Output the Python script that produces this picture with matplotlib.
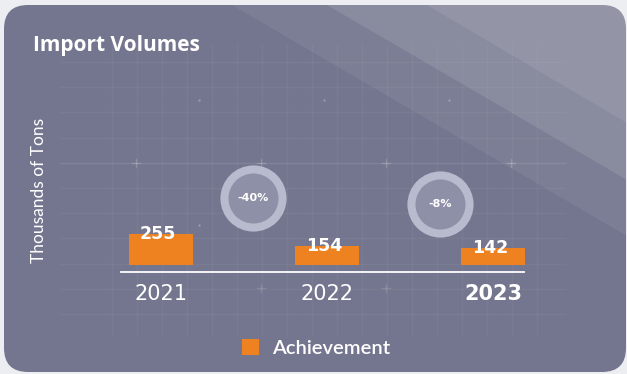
import numpy as np
import matplotlib.pyplot as plt
from matplotlib.patches import FancyBboxPatch, Polygon, Patch

years = ["2021", "2022", "2023"]
volumes = [255, 154, 142]
series_name = "Achievement"

BG = "#eceef2"
CARD = "#74768f"
ORANGE = "#ee8221"
RING = "#b8bace"
RING_FACE = "#8e90a7"

W, H = 627, 374
fig = plt.figure(figsize=(W / 100, H / 100), dpi=100, facecolor=BG)

# backdrop drawn in pixel space
bg = fig.add_axes([0, 0, 1, 1])
bg.set_xlim(0, W)
bg.set_ylim(H, 0)
bg.axis("off")

card_box = dict(boxstyle="round,pad=0,rounding_size=24", edgecolor="none")
bg.add_patch(FancyBboxPatch((4, 5), 622, 367, facecolor=CARD, **card_box))

# faint grid behind the chart
for gx in np.arange(112, 560, 25):
    strong = (gx - 136) % 125 == 0
    bg.plot([gx, gx], [45, 335], color="white", alpha=0.09 if strong else 0.04, lw=1)
for gy in np.arange(62, 330, 25.2):
    strong = abs(gy - 163) < 2
    bg.plot([60, 565], [gy, gy], color="white", alpha=0.09 if strong else 0.04, lw=1)
for cx in [136, 261, 386, 511]:
    bg.plot([cx - 4, cx + 4], [163, 163], color="white", alpha=0.18, lw=1)
    bg.plot([cx, cx], [159, 167], color="white", alpha=0.18, lw=1)
for cx in [261, 386]:
    bg.plot([cx - 4, cx + 4], [288, 288], color="white", alpha=0.12, lw=1)
    bg.plot([cx, cx], [284, 292], color="white", alpha=0.12, lw=1)
bg.scatter([199, 324, 449, 199], [100, 100, 100, 225], s=3, color="white", alpha=0.25, lw=0)

# diagonal light bands in the upper right
bands = [
    ([(232, 5), (627, 5), (627, 236)], 0.06),
    ([(327, 5), (627, 5), (627, 180)], 0.10),
    ([(427, 5), (627, 5), (627, 123)], 0.09),
]
for pts, a in bands:
    clip = FancyBboxPatch((4, 5), 622, 367, facecolor="none", transform=bg.transData, **card_box)
    bg.add_patch(clip)
    poly = Polygon(pts, closed=True, facecolor="white", alpha=a, edgecolor="none")
    bg.add_patch(poly)
    poly.set_clip_path(clip)

fig.text(33 / W, 1 - 46 / H, "Import Volumes", color="white", fontsize=15,
         fontweight="bold", family="Open Sans", va="center", ha="left")

# bar chart
ax = fig.add_axes([78 / W, (H - 272) / H, 498 / W, 212 / H])
ax.set_facecolor("none")
x = np.arange(len(years))
ax.bar(x, volumes, width=0.385, color=ORANGE, label=series_name)
ax.set_xlim(-0.5, 2.5)
ax.set_ylim(-58, 1686)

for xi, v in zip(x, volumes):
    ax.annotate(str(v), (xi, v), xytext=(-2, 0), textcoords="offset points",
                ha="center", va="center", color="white", fontsize=12.5, fontweight="bold")

# change between consecutive years
rings_x = [0.554, 1.68]
rings_y = [551, 502]
for i in range(len(volumes) - 1):
    pct = (volumes[i + 1] - volumes[i]) / volumes[i] * 100
    ax.scatter(rings_x[i], rings_y[i], s=1750, facecolor=RING_FACE, edgecolor=RING,
               linewidths=5.8, zorder=3)
    ax.text(rings_x[i], rings_y[i], f"{pct:.0f}%", color="white", fontsize=8,
            fontweight="semibold", ha="center", va="center", zorder=4)

for s in ["top", "right", "left"]:
    ax.spines[s].set_visible(False)
ax.spines["bottom"].set_color("white")
ax.spines["bottom"].set_linewidth(1.3)
ax.spines["bottom"].set_bounds(-0.241, 2.187)
ax.set_yticks([])
ax.set_xticks(x)
ax.set_xticklabels(years, color="white", fontsize=15)
ax.get_xticklabels()[-1].set_fontweight("bold")
ax.tick_params(axis="x", length=0, pad=9)

ax.set_ylabel("Thousands of Tons", color="white", fontsize=12.5, family="Lato")
ax.yaxis.set_label_coords(-0.062, 0.387)

handles = [Patch(facecolor=ORANGE, label=series_name)]
fig.legend(handles=handles, loc="center", bbox_to_anchor=(316 / W, 26 / H), frameon=False,
           handlelength=0.85, handleheight=0.85, handletextpad=0.6,
           prop={"family": "Lato", "size": 14.5, "weight": "semibold"}, labelcolor="white")

fig.savefig("out.png", dpi=100, facecolor=BG)
